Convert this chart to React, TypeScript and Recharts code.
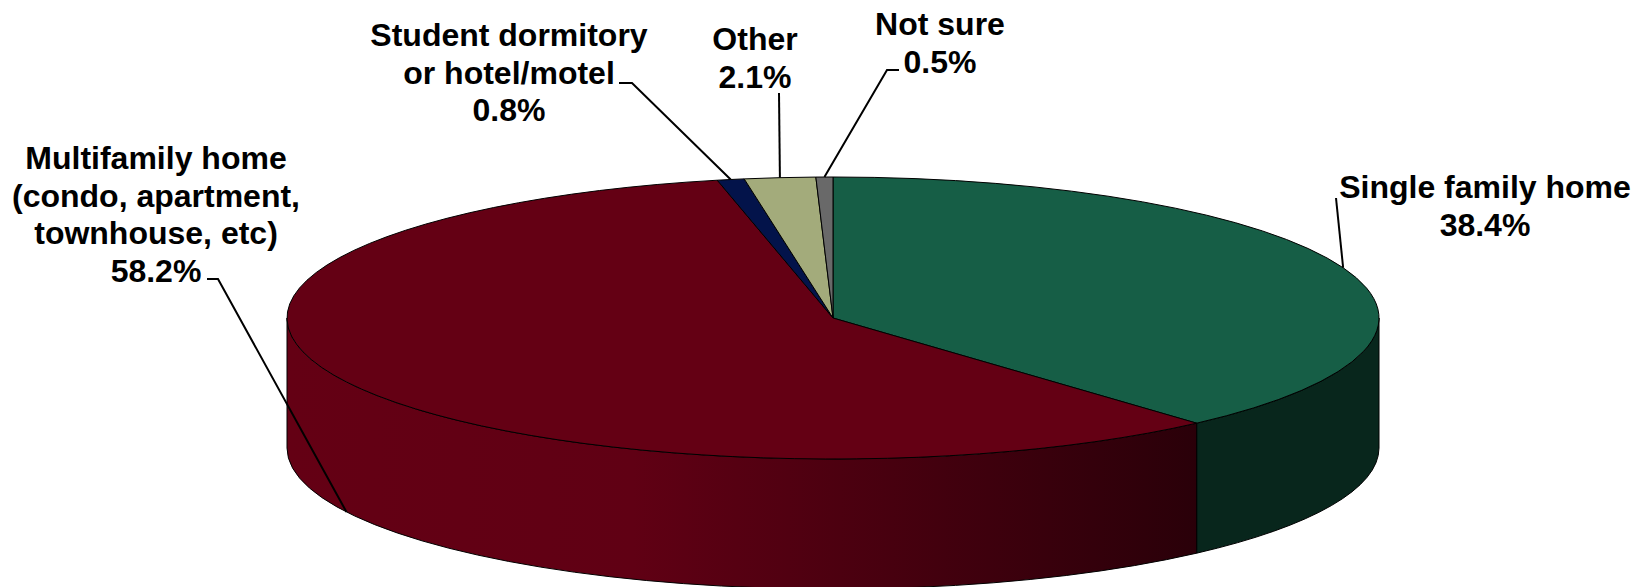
import { Pie, PieChart } from "recharts";

const CATEGORIES = ["Single family home", "Multifamily home", "Student dormitory", "Other", "Not sure"];
const VALUES = [38.4, 58.2, 0.8, 2.1, 0.5];
const LABEL_LINES = [
  ["Single family home"],
  ["Multifamily home", "(condo, apartment,", "townhouse, etc)"],
  ["Student dormitory", "or hotel/motel"],
  ["Other"],
  ["Not sure"],
];
const COLORS = ["#165e46", "#640014", "#03134a", "#a3ab7b", "#696969"];
const WALL_FILLS = ["#08261c", "url(#wallRed)", "#03134a", "#a3ab7b", "#696969"];

// label text centre + first baseline, and where the leader starts (elbow first)
const LABEL_POS = [
  { x: 1485, y: 198, leader: [[1336, 198]] },
  { x: 156, y: 169, leader: [[207, 279], [218, 279]] },
  { x: 509, y: 46, leader: [[619, 83], [632, 83]] },
  { x: 755, y: 50, leader: [[779, 93]] },
  { x: 940, y: 35, leader: [[899, 70], [887, 70]] },
];

const WIDTH = 1644;
const HEIGHT = 587;
const CX = 833;
const CY = 318;
const RX = 546;
const RY = 141;
const WALL = 130;
const FONT_SIZE = 32;
const LINE_STEP = 37.5;

const data = CATEGORIES.map((name, i) => ({ name, value: VALUES[i], fill: COLORS[i] }));

// recharts angle (deg, ccw from 3 o'clock) -> point on the flattened rim
function rim(cx: number, cy: number, angle: number, drop = 0) {
  const a = (angle * Math.PI) / 180;
  return { x: cx + RX * Math.cos(a), y: cy - RY * Math.sin(a) + drop };
}

function PieSlice(props: any) {
  const { cx, cy, startAngle, endAngle, index, fill } = props;
  const p0 = rim(cx, cy, startAngle);
  const p1 = rim(cx, cy, endAngle);
  const large = Math.abs(startAngle - endAngle) > 180 ? 1 : 0;
  const top = `M${cx},${cy}L${p0.x},${p0.y}A${RX},${RY} 0 ${large} 1 ${p1.x},${p1.y}Z`;

  // the side wall only shows on the front half, angles 0 to -180
  const from = Math.min(startAngle, 0);
  const to = Math.max(endAngle, -180);
  let wall = null;
  if (from > to) {
    const a = rim(cx, cy, from);
    const b = rim(cx, cy, to);
    const c = rim(cx, cy, to, WALL);
    const d = rim(cx, cy, from, WALL);
    wall = (
      <path
        d={`M${a.x},${a.y}A${RX},${RY} 0 0 1 ${b.x},${b.y}L${c.x},${c.y}A${RX},${RY} 0 0 0 ${d.x},${d.y}Z`}
        fill={WALL_FILLS[index]}
        stroke="#000"
        strokeWidth={1}
      />
    );
  }
  return (
    <g>
      {wall}
      <path d={top} fill={fill} stroke="#000" strokeWidth={1} />
    </g>
  );
}

function SliceLabel(props: any) {
  const { cx, cy, midAngle, index, value } = props;
  const pos = LABEL_POS[index];
  const lines = [...LABEL_LINES[index], `${value.toFixed(1)}%`];
  const isFront = (midAngle < 0 && midAngle > -180) || midAngle > 180;
  const end = rim(cx, cy, midAngle, isFront ? WALL : 0);
  const pts = [...pos.leader, [end.x, end.y]].map((p) => p.join(",")).join(" ");
  return (
    <g>
      <polyline points={pts} fill="none" stroke="#000" strokeWidth={2} />
      <text
        textAnchor="middle"
        fontFamily="Liberation Sans"
        fontWeight="bold"
        fontSize={FONT_SIZE}
        fill="#000"
      >
        {lines.map((line, i) => (
          <tspan key={i} x={pos.x} y={pos.y + i * LINE_STEP}>
            {line}
          </tspan>
        ))}
      </text>
    </g>
  );
}

export default function App() {
  return (
    <div style={{ position: "absolute", left: 0, top: 0, width: WIDTH, height: HEIGHT, overflow: "hidden", background: "#fff" }}>
      <PieChart width={WIDTH} height={HEIGHT} margin={{ top: 0, right: 0, bottom: 0, left: 0 }}>
        <defs>
          <linearGradient id="wallRed" x1="0" y1="0" x2="1" y2="0">
            <stop offset="0%" stopColor="#640014" />
            <stop offset="38%" stopColor="#600014" />
            <stop offset="100%" stopColor="#2a0009" />
          </linearGradient>
        </defs>
        <Pie
          data={data}
          dataKey="value"
          nameKey="name"
          cx={CX}
          cy={CY}
          innerRadius={0}
          outerRadius={RX}
          startAngle={90}
          endAngle={-270}
          paddingAngle={0}
          stroke="none"
          shape={PieSlice}
          label={SliceLabel}
          labelLine={false}
          isAnimationActive={false}
        />
      </PieChart>
    </div>
  );
}
